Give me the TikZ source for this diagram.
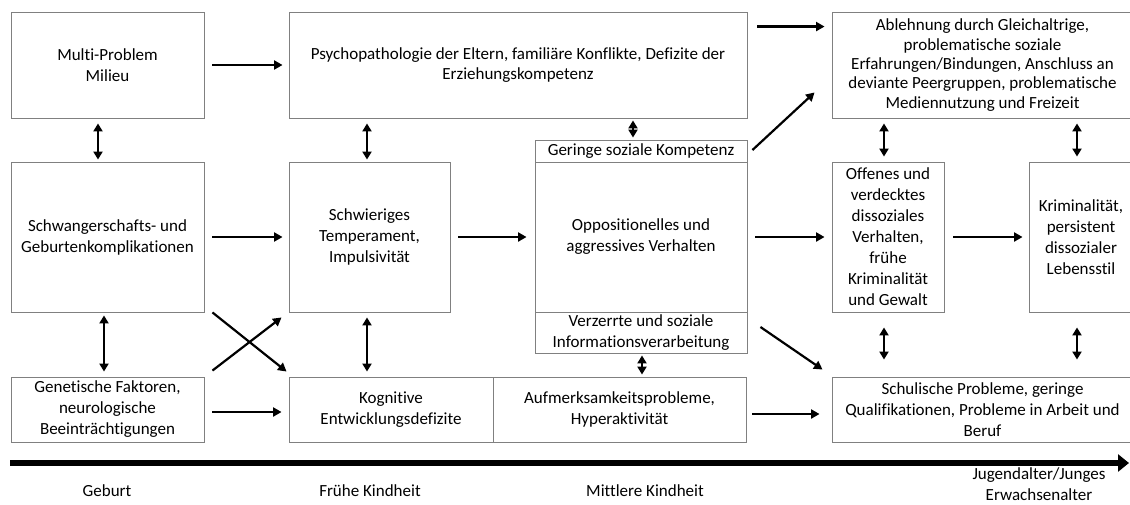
\documentclass[tikz,border=0pt]{standalone}
\usepackage{fontspec}
\setmainfont{Carlito}[Ligatures={NoCommon}]
\usetikzlibrary{arrows.meta}
\begin{document}
\begin{tikzpicture}[x=1pt,y=-1pt,
  box/.style={draw=black!50, line width=0.9pt, align=center, inner sep=0pt, font=\fontsize{17}{21}\selectfont},
  tight/.style={font=\fontsize{17}{19.3}\selectfont},
  arr/.style={line width=2.2pt, -{Triangle[length=8.5pt,width=9pt]}},
  darr/.style={line width=2.2pt, {Triangle[length=8pt,width=9pt]}-{Triangle[length=8pt,width=9pt]}},
  axis/.style={line width=6pt, -{Triangle[length=11pt,width=17pt]}},
  lab/.style={align=center, inner sep=0pt, font=\fontsize{17}{21.5}\selectfont}]
\useasboundingbox (0,0) rectangle (1130,504);
\clip (0,0) rectangle (1130,504);
% top row
\node[box, minimum width=193, minimum height=106] (multi) at (107.5,65) {Multi-Problem\\Milieu};
\node[box, tight, minimum width=458, minimum height=106] (psych) at (518,65) {Psychopathologie der Eltern, familiäre Konflikte, Defizite der\\Erziehungskompetenz};
\node[box, tight, minimum width=301, minimum height=106] (ableh) at (982.5,65) {Ablehnung durch Gleichaltrige,\\problematische soziale\\Erfahrungen/Bindungen, Anschluss an\\deviante Peergruppen, problematische\\Mediennutzung und Freizeit};
% middle row
\node[box, minimum width=193, minimum height=150] (schw) at (107.5,237) {Schwangerschafts- und\\Geburtenkomplikationen};
\node[box, minimum width=161, minimum height=150] (temp) at (369.5,237) {Schwieriges\\Temperament,\\Impulsivität};
\node[box, minimum width=212, minimum height=22] (ger) at (641,151) {Geringe soziale Kompetenz};
\node[box, minimum width=212, minimum height=150] (oppos) at (641,237) {Oppositionelles und\\aggressives Verhalten};
\node[box, minimum width=212, minimum height=41] (verz) at (641,332.5) {Verzerrte und soziale\\Informationsverarbeitung};
\node[box, minimum width=112, minimum height=150] (offen) at (888,237) {Offenes und\\verdecktes\\dissoziales\\Verhalten,\\frühe\\Kriminalität\\und Gewalt};
\node[box, minimum width=104, minimum height=150] (krim) at (1081,237) {Kriminalität,\\persistent\\dissozialer\\Lebensstil};
% bottom row
\node[box, minimum width=193, minimum height=65] (gen) at (107.5,409.5) {Genetische Faktoren,\\neurologische\\Beeinträchtigungen};
\node[box, minimum width=204, minimum height=65] (kogn) at (391,409.5) {Kognitive\\Entwicklungsdefizite};
\node[box, minimum width=253, minimum height=65] (aufm) at (619.5,409.5) {Aufmerksamkeitsprobleme,\\Hyperaktivität};
\node[box, minimum width=301, minimum height=65] (schul) at (982.5,409.5) {Schulische Probleme, geringe\\Qualifikationen, Probleme in Arbeit und\\Beruf};
% horizontal arrows
\draw[arr, shorten <=8pt, shorten >=6pt] (multi) -- (psych);
\draw[arr] ([shift={(10,15)}]psych.north east) -- ([shift={(-7,15)}]ableh.north west);
\draw[arr, shorten <=8pt, shorten >=6pt] (schw) -- (temp);
\draw[arr, shorten <=8pt, shorten >=8pt] (temp) -- (oppos);
\draw[arr, shorten <=8pt, shorten >=7pt] (oppos) -- (offen);
\draw[arr, shorten <=9pt, shorten >=6pt] (offen) -- (krim);
\draw[arr] ([shift={(8,2.5)}]gen.east) -- ([shift={(-7,2.5)}]kogn.west);
\draw[arr] ([shift={(6,4.5)}]aufm.east) -- ([shift={(-12,4.5)}]schul.west);
% diagonal arrows
\draw[arr] ([shift={(5,-1)}]ger.east) -- ([shift={(-17,-26)}]ableh.south west);
\draw[arr] ([shift={(13,-5.5)}]verz.east) -- ([shift={(-9,-7)}]schul.north west);
\draw[arr] ([shift={(8,0)}]schw.south east) -- ([shift={(-2,-5)}]kogn.north west);
\draw[arr] ([shift={(8,-6)}]gen.north east) -- ([shift={(-7,5)}]temp.south west);
% vertical double arrows
\draw[darr] ([shift={(-9.5,5)}]multi.south) -- ([shift={(-9.5,-2)}]schw.north);
\draw[darr] ([shift={(-2.5,5)}]temp.north |- psych.south) -- ([shift={(-2.5,-2)}]temp.north);
\draw[darr] ([shift={(-8,2)}]ger.north |- psych.south) -- ([shift={(-8,-2)}]ger.north);
\draw[darr] ([shift={(-4,5)}]offen.north |- ableh.south) -- ([shift={(-4,-5)}]offen.north);
\draw[darr] ([shift={(-4,5)}]krim.north |- ableh.south) -- ([shift={(-4,-5)}]krim.north);
\draw[darr] ([shift={(-3.5,3)}]schw.south) -- ([shift={(-3.5,-5)}]schw.south |- gen.north);
\draw[darr] ([shift={(-2.5,5)}]temp.south) -- ([shift={(-2.5,-5)}]temp.south |- kogn.north);
\draw[darr] ([shift={(1,2)}]verz.south) -- ([shift={(1,-2)}]verz.south |- aufm.north);
\draw[darr] ([shift={(-4,15)}]offen.south) -- ([shift={(-4,-17)}]offen.south |- schul.north);
\draw[darr] ([shift={(-4,15)}]krim.south) -- ([shift={(-4,-17)}]krim.south |- schul.north);
% time axis
\coordinate (ax1) at (10,463);
\coordinate (ax2) at (1129,463);
\draw[axis] (ax1) -- (ax2);
\node[lab] (l1) at (107,491) {Geburt};
\node[lab] (l2) at (370,491) {Frühe Kindheit};
\node[lab] (l3) at (645,491) {Mittlere Kindheit};
\node[lab] (l4) at (1039,484) {Jugendalter/Junges\\Erwachsenalter};
\end{tikzpicture}
\end{document}
